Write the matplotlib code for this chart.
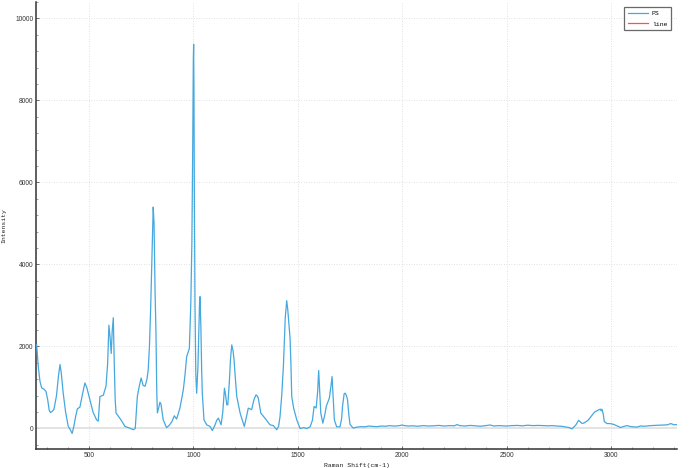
import matplotlib
matplotlib.use("Agg")
import matplotlib.pyplot as plt
from matplotlib.ticker import MultipleLocator, AutoMinorLocator

# Raman shift (cm-1) and intensity
shift = [250, 258, 266, 274, 285, 295, 303, 310, 316, 325, 333, 345, 355, 362, 368, 377,
         389, 401, 410, 420, 428, 437, 445, 457, 470, 481, 490, 505, 520, 537, 545, 553,
         569, 582, 590, 596, 602, 607, 612, 617, 622, 626, 630, 641, 655, 673, 690, 713,
         722, 732, 740, 750, 760, 769, 778, 784, 790, 796, 802, 808, 812, 817, 821, 825,
         828, 834, 840, 845, 856, 872, 885, 897, 909, 920, 936, 952, 960, 968, 976, 981,
         988, 993, 997, 1000, 1001.5, 1003, 1005, 1008, 1012, 1016, 1022, 1027, 1030, 1032,
         1036, 1040, 1043, 1051, 1064, 1080, 1091, 1104, 1112, 1120, 1133, 1141, 1149, 1155,
         1160, 1165, 1172, 1178, 1184, 1190, 1195, 1200, 1208, 1224, 1244, 1255, 1263, 1279,
         1290, 1300, 1305, 1311, 1323, 1343, 1367, 1383, 1399, 1408, 1415, 1423, 1431, 1440,
         1447, 1452, 1458, 1463, 1467, 1471, 1480, 1495, 1511, 1527, 1543, 1559, 1570, 1578,
         1588, 1595, 1600, 1605, 1610, 1620, 1630, 1636, 1651, 1658, 1664, 1668, 1675, 1686,
         1702, 1710, 1714, 1722, 1727, 1733, 1738, 1745, 1750, 1765, 1780,
         1800, 1820, 1840, 1860, 1880, 1900, 1920, 1940, 1960, 1980, 2000, 2010, 2030, 2050,
         2075, 2100, 2125, 2150, 2175, 2200, 2225, 2250, 2262, 2275, 2300, 2325, 2350, 2375,
         2400, 2420, 2440, 2460, 2480, 2500, 2525, 2550, 2575, 2600, 2625, 2650, 2675, 2700,
         2720, 2740, 2760, 2780, 2800, 2812, 2830, 2844, 2860, 2868, 2884, 2892, 2905, 2916,
         2924, 2932, 2940, 2948, 2952, 2956, 2962, 2967, 2980, 2995, 3012, 3030, 3044, 3060,
         3076, 3090, 3105, 3124, 3140, 3160, 3188, 3210, 3230, 3250, 3270, 3285, 3291, 3300, 3315]
intensity = [2050, 1500, 1150, 990, 960, 900, 700, 450, 390, 420, 470, 800, 1300, 1560, 1350, 870,
             390, 60, -20, -120, 50, 300, 480, 520, 850, 1110, 1000, 700, 400, 210, 180, 780,
             810, 1030, 1600, 2520, 2200, 1830, 2400, 2700, 1500, 700, 380, 300, 200, 50, 20, -30,
             0, 780, 1000, 1230, 1050, 1030, 1200, 1430, 2000, 2970, 4200, 5400, 5000, 3300, 2400, 900,
             380, 500, 640, 600, 210, 20, 80, 160, 310, 230, 500, 940, 1300, 1750, 1875, 1950,
             3060, 4500, 6800, 9000, 9370, 8300, 5600, 3000, 1300, 860, 1500, 2500, 3100, 3215,
             2500, 1400, 860, 212, 90, 50, -50, 90, 200, 253, 90, 400, 983, 800,
             580, 577, 1100, 1700, 2038, 1900, 1673, 1300, 780, 375, 50, 300, 497, 460,
             700, 820, 800, 740, 375, 250, 90, 70, -30, 50, 290, 800, 1510, 2700,
             3117, 2900, 2500, 2200, 1600, 780, 500, 212, 0, 20, 0, 40, 200, 537,
             500, 900, 1413, 900, 375, 130, 350, 537, 740, 1000, 1266, 900, 212, 40,
             40, 250, 537, 850, 862, 800, 700, 300, 100, 10, 30,
             45, 40, 60, 50, 45, 60, 55, 70, 60, 65, 85, 70, 60, 65,
             55, 70, 60, 65, 75, 60, 70, 65, 95, 70, 60, 75, 65, 55,
             70, 85, 60, 70, 65, 60, 70, 75, 65, 80, 70, 75, 70, 65,
             70, 60, 55, 40, 20, -10, 80, 200, 125, 130, 180, 215, 300, 375,
             415, 430, 455, 472, 430, 470, 350, 170, 120, 120, 100, 60, 25, 50,
             70, 50, 40, 35, 60, 55, 70, 75, 80, 85, 90, 120, 110, 90, 95]

x_ticks = [500, 1000, 1500, 2000, 2500, 3000]
y_ticks = [0, 2000, 4000, 6000, 8000, 10000]

fig = plt.figure(figsize=(6.93, 4.68), dpi=100)
ax = fig.add_axes([36 / 693, 19 / 468, (677 - 36) / 693, (449 - 2) / 468])

ax.axhline(0, color="#e2e2e2", lw=1.3, zorder=1)
ax.plot(shift, intensity, color="#45a8df", lw=0.9, label="PS", zorder=3)
ax.plot([], [], color="#ff5050", lw=0.9, label="line")

ax.set_xlim(247, 3315)
ax.set_ylim(-500, 10400)
ax.set_xticks(x_ticks)
ax.set_yticks(y_ticks)
ax.xaxis.set_minor_locator(AutoMinorLocator(5))
ax.yaxis.set_minor_locator(AutoMinorLocator(5))
ax.grid(True, which="major", color="#d8d8d8", lw=0.6, ls=(0, (1, 2)))
ax.set_axisbelow(True)

for s in ["top", "right"]:
    ax.spines[s].set_visible(False)
for s in ["left", "bottom"]:
    ax.spines[s].set_color("#333333")
    ax.spines[s].set_linewidth(1.1)

ax.tick_params(which="major", direction="in", length=2.5, width=0.6, color="#555555",
               labelsize=4.8, labelcolor="#333333", pad=2)
ax.tick_params(which="minor", direction="in", length=1.5, width=0.5, color="#777777")
for lab in ax.get_xticklabels() + ax.get_yticklabels():
    lab.set_fontfamily("Liberation Sans")

ax.set_xlabel("Raman Shift(cm-1)", fontfamily="Liberation Mono", fontsize=4.6,
              color="#222222", labelpad=3)
ax.set_ylabel("Intensity", fontfamily="Liberation Mono", fontsize=4.6,
              color="#222222", labelpad=6)

leg = ax.legend(loc="upper right", bbox_to_anchor=(671 / 693, 461 / 468),
                bbox_transform=fig.transFigure, prop={"family": "Liberation Mono", "size": 4.6},
                frameon=True, fancybox=False, borderpad=0.6, handlelength=3.1,
                handletextpad=0.6, labelspacing=0.75, borderaxespad=0)
leg.get_frame().set_edgecolor("#444444")
leg.get_frame().set_linewidth(0.9)

fig.savefig("out.png", dpi=100)
